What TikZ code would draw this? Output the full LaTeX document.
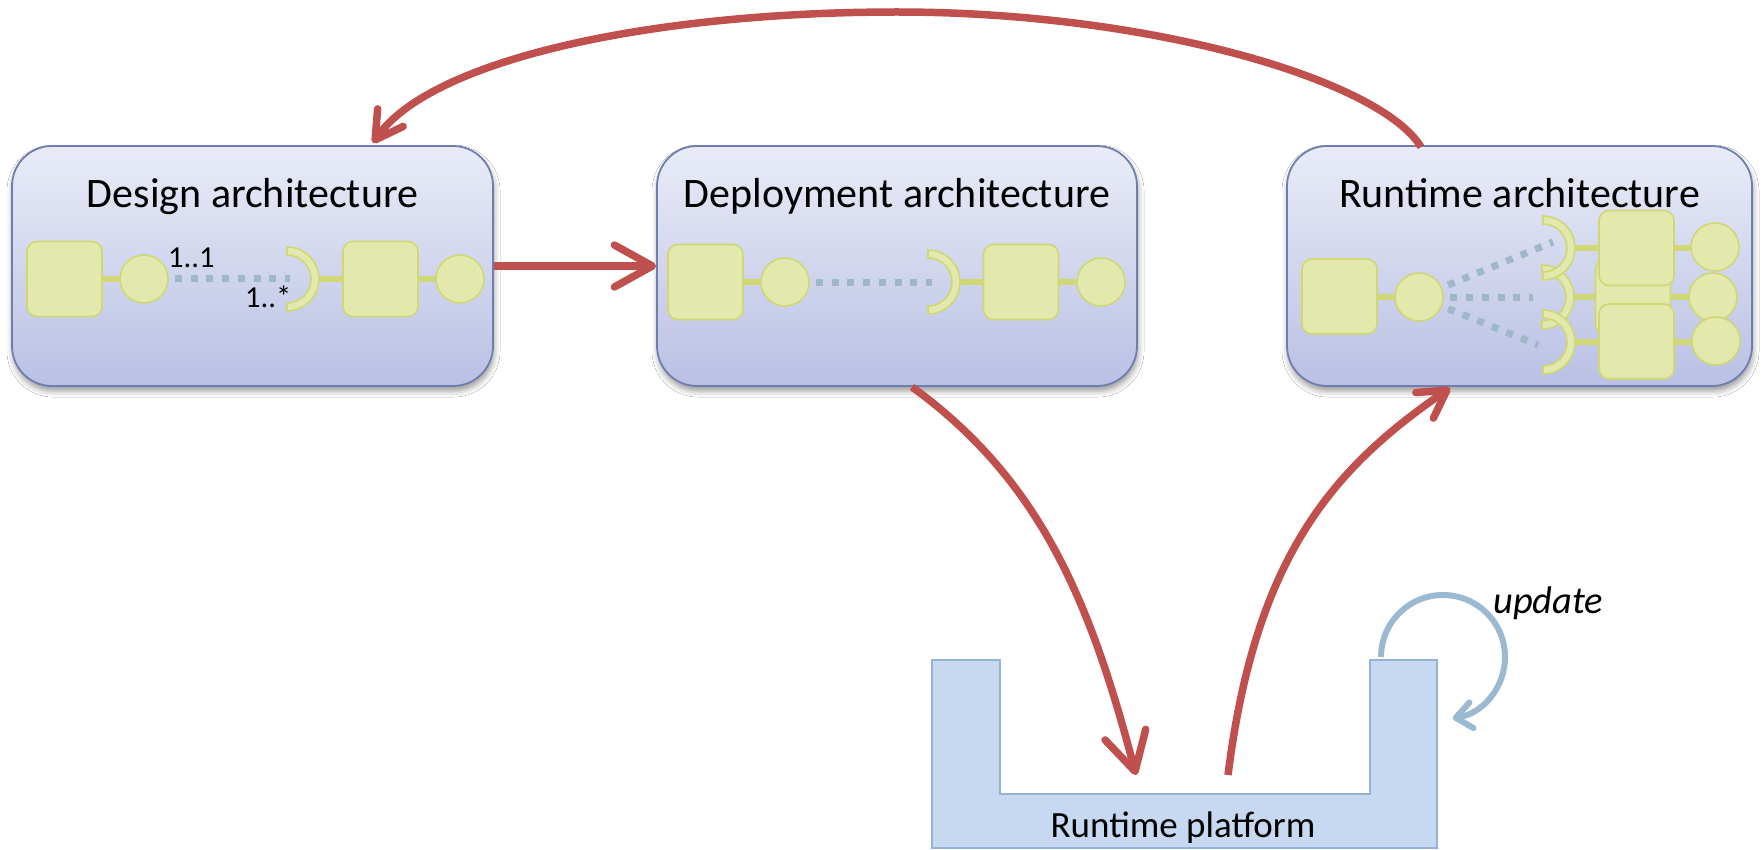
\documentclass[tikz,border=0pt]{standalone}
\usepackage{fontspec}
\setmainfont{Carlito}
\usetikzlibrary{arrows.meta,shadows.blur}
\definecolor{boxtop}{HTML}{E9ECF7}
\definecolor{boxbot}{HTML}{BAC0E4}
\definecolor{boxedge}{HTML}{707EAE}
\definecolor{compfill}{HTML}{E3E9AD}
\definecolor{compdraw}{HTML}{D0D775}
\definecolor{dotcol}{HTML}{9EB8CA}
\definecolor{arrred}{HTML}{C0504D}
\definecolor{platfill}{HTML}{C6D9F1}
\definecolor{platedge}{HTML}{95B3D7}
\definecolor{updcol}{HTML}{9BB9D1}
\begin{document}
\begin{tikzpicture}[x=1pt,y=-1pt,
  archbox/.style={draw=boxedge, line width=1.8pt, rounded corners=40pt,
    top color=boxtop, bottom color=boxbot, minimum height=240pt, inner sep=0pt,
    blur shadow={shadow xshift=1pt, shadow yshift=-5pt, shadow blur radius=6pt, shadow opacity=40}},
  titletext/.style={font=\fontsize{42}{46}\selectfont, anchor=base, inner sep=0pt},
  labtext/.style={font=\fontsize{30.5}{34}\selectfont, anchor=base west, inner sep=0pt},
  comp/.style={draw=compdraw, fill=compfill, line width=1.6pt, rounded corners=10pt,
    minimum size=75pt, inner sep=0pt},
  port/.style={draw=compdraw, fill=compfill, line width=1.6pt, circle,
    minimum size=48pt, inner sep=0pt},
  link/.style={draw=compdraw, line width=6pt},
  dots/.style={draw=dotcol, line width=7pt, dash pattern=on 7pt off 8.7pt},
  flow/.style={draw=arrred, line width=7.5pt},
  bigtip/.style={-{Straight Barb[length=38pt,width=42pt,round]}},
  smalltip/.style={-{Straight Barb[length=27pt,width=31pt,round]}},
  socketpic/.pic={\path[draw=compdraw, fill=compfill, line width=1.6pt]
    (0,-32) arc[start angle=90, end angle=-90, radius=32pt] -- (0,24)
    arc[start angle=-90, end angle=90, radius=24pt] -- cycle;},
]
\useasboundingbox (0,0) rectangle (1763,850);
\fill[white] (0,0) rectangle (1763,850);

% ---------- boxes ----------
\node[archbox, minimum width=481pt] (design) at (252.5,266) {};
\node[archbox, minimum width=480pt] (deploy) at (897,266) {};
\node[archbox, minimum width=465pt] (runtime) at (1519.5,266) {};
\node[titletext] (designt) at (252.5,208) {Design architecture};
\node[titletext] (deployt) at (897,208) {Deployment architecture};
\node[titletext] (runtimet) at (1519.5,208) {Runtime architecture};

% ---------- design contents ----------
\coordinate (dsock) at (287,279);
\draw[dots] (175,278) -- (290,278);
\node[comp] (ds1) at (64.5,279) {};
\node[port] (dp1) at (144,279) {};
\pic at (dsock) {socketpic};
\node[comp] (ds2) at (380.5,279) {};
\node[port] (dp2) at (460,279) {};
\draw[link] (ds1) -- (dp1);
\draw[link] (320,279) -- (ds2);
\draw[link] (ds2) -- (dp2);
\node[labtext] (l11) at (168,267) {1..1};
\node[labtext] (l1s) at (245,307) {1..*};

% ---------- deployment contents ----------
\coordinate (psock) at (928,282);
\draw[dots] (816,282) -- (932,282);
\node[comp] (ps1) at (705.5,282) {};
\node[port] (pp1) at (785,282) {};
\pic at (psock) {socketpic};
\node[comp] (ps2) at (1021,282) {};
\node[port] (pp2) at (1101,282) {};
\draw[link] (ps1) -- (pp1);
\draw[link] (961,282) -- (ps2);
\draw[link] (ps2) -- (pp2);

% ---------- runtime contents ----------
\node[comp] (rs1) at (1339.5,296.5) {};
\draw[dots] (1419,297) -- (1553,242);
\draw[dots] (1419,297) -- (1533,297);
\draw[dots] (1419,297) -- (1538,345);
\node[port] (rp1) at (1419,297) {};
\draw[link] (rs1) -- (rp1);
% middle
\draw[link] (1575,297) -- (1700,297);
\pic at (1542,297) {socketpic};
\node[comp] (rsm) at (1633,297) {};
\node[port] (rpm) at (1713,297) {};
% top
\draw[link] (1575,248) -- (1700,248);
\pic at (1543,248) {socketpic};
\node[comp] (rst) at (1636.5,248) {};
\node[port] (rpt) at (1715,247) {};
% bottom
\draw[link] (1575,342) -- (1700,342);
\pic at (1543,342) {socketpic};
\node[comp] (rsb) at (1636.5,341.5) {};
\node[port] (rpb) at (1716,341) {};

% ---------- runtime platform ----------
\draw[fill=platfill, draw=platedge, line width=2pt]
  (932,660) -- (1000,660) -- (1000,794) -- (1370,794) -- (1370,660)
  -- (1437,660) -- (1437,848) -- (932,848) -- cycle;
\node[font=\fontsize{37}{41}\selectfont, anchor=base, inner sep=0pt] (platt) at (1183,837) {Runtime platform};
\coordinate (platin) at (1136,775);
\coordinate (platout) at (1228,775);

% ---------- update loop ----------
\coordinate (updstart) at (1381,657);
\draw[updcol, line width=6pt, -{Straight Barb[length=16pt,width=26pt,round]}]
  (updstart) arc[start angle=180, end angle=-81, radius=62pt];
\node[font=\fontsize{38.5}{42}\selectfont\itshape, anchor=base west, inner sep=0pt] (updt) at (1493,613) {update};

% ---------- red flows ----------
\coordinate (rtout) at (1421,147);
\coordinate (dsin) at (373,143);
\coordinate (dpout) at (912,387);
\coordinate (rtin) at (1450,388);
\draw[flow, bigtip] (design.east) -- (deploy.west);
\draw[flow, bigtip] (dpout) .. controls (1040,480) and (1090,600) .. (platin);
\draw[flow, smalltip] (platout) .. controls (1255,560) and (1330,470) .. (rtin);
\draw[flow, smalltip] (rtout) .. controls (1380,80) and (1150,12) .. (897,12)
  .. controls (650,12) and (430,60) .. (dsin);
\end{tikzpicture}
\end{document}
